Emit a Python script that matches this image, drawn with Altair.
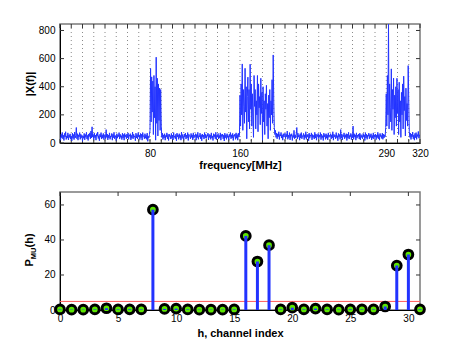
import altair as alt
import pandas as pd

# ---------------- data ----------------
# |X(f)|, 0.5 MHz steps, one row per 10 MHz channel
spectrum_mag = [
    45, 20, 62, 38, 75, 30, 55, 18, 68, 42, 80, 25, 50, 35, 72, 22, 58, 40, 65, 28,
    48, 15, 70, 33, 60, 24, 78, 36, 52, 110, 30, 66, 20, 58, 44, 74, 26, 62, 38, 55,
    12, 50, 34, 68, 22, 60, 40, 76, 28, 54, 18, 64, 46, 72, 30, 85, 36, 115, 42, 60,
    25, 70, 38, 56, 20, 66, 48, 78, 32, 52, 16, 62, 42, 74, 28, 58, 35, 68, 24, 50,
    60, 30, 95, 40, 64, 22, 56, 36, 72, 26, 50, 44, 68, 20, 62, 38, 76, 30, 54, 42,
    18, 66, 34, 58, 46, 74, 28, 62, 40, 52, 24, 70, 36, 60, 20, 68, 44, 56, 30, 64,
    38, 72, 26, 58, 48, 66, 22, 54, 34, 78, 30, 62, 42, 50, 16, 70, 36, 60, 28, 74,
    44, 56, 24, 68, 38, 62, 20, 74, 46, 52, 30, 66, 34, 58, 26, 70, 12, 48, 36, 60,
    90, 530, 150, 470, 220, 440, 60, 480, 180, 400, 20, 610, 140, 460, 50, 420, 160, 390, 90, 380,
    120, 40, 70, 25, 58, 36, 66, 20, 54, 42, 72, 30, 60, 18, 64, 46, 52, 28, 68, 34,
    56, 22, 74, 40, 50, 30, 62, 16, 70, 44, 58, 26, 66, 38, 54, 20, 78, 32, 60, 46,
    24, 64, 42, 70, 28, 56, 36, 74, 18, 62, 48, 52, 30, 68, 40, 58, 22, 72, 34, 54,
    46, 66, 20, 60, 38, 76, 26, 52, 44, 70, 30, 58, 16, 64, 42, 56, 28, 74, 36, 62,
    32, 54, 48, 70, 22, 62, 40, 58, 26, 72, 36, 50, 18, 66, 44, 60, 30, 76, 24, 56,
    42, 68, 28, 54, 36, 72, 20, 60, 46, 64, 30, 56, 14, 70, 38, 58, 26, 66, 40, 52,
    22, 62, 44, 74, 30, 58, 36, 68, 18, 56, 48, 64, 26, 72, 34, 60, 20, 70, 42, 55,
    340, 120, 420, 200, 562, 90, 380, 260, 140, 531, 220, 400, 30, 330, 468, 150, 380, 100, 560, 240,
    420, 120, 350, 190, 40, 480, 260, 380, 100, 300, 200, 480, 80, 420, 250, 330, 130, 460, 210, 360,
    20, 400, 150, 300, 60, 350, 240, 410, 120, 280, 30, 340, 180, 380, 90, 300, 200, 450, 140, 626,
    300, 110, 60, 90, 40, 70, 30, 65, 45, 80, 25, 60, 50, 75, 35, 58, 20, 66, 42, 54,
    70, 30, 62, 44, 85, 26, 56, 38, 74, 22, 60, 48, 66, 18, 54, 40, 90, 30, 58, 36,
    64, 110, 28, 70, 42, 56, 20, 66, 36, 74, 30, 52, 46, 68, 24, 58, 38, 80, 26, 60,
    44, 62, 16, 70, 34, 56, 48, 72, 22, 60, 40, 54, 28, 76, 36, 64, 20, 58, 46, 68,
    30, 56, 42, 74, 24, 62, 38, 52, 18, 70, 44, 60, 26, 66, 34, 58, 22, 72, 40, 54,
    48, 66, 28, 58, 36, 80, 20, 62, 44, 56, 30, 74, 38, 52, 16, 68, 42, 60, 26, 95,
    34, 64, 22, 56, 46, 72, 30, 58, 40, 66, 18, 62, 36, 76, 28, 54, 44, 68, 24, 60,
    38, 120, 26, 66, 42, 58, 20, 72, 34, 56, 46, 64, 28, 70, 22, 60, 40, 54, 30, 68,
    44, 58, 18, 74, 36, 62, 26, 56, 48, 70, 30, 60, 40, 66, 22, 54, 34, 72, 28, 58,
    42, 64, 24, 56, 38, 76, 30, 60, 20, 68, 46, 54, 32, 70, 26, 62, 36, 58, 44, 110,
    350, 120, 480, 200, 846, 100, 420, 250, 150, 527, 90, 380, 240, 461, 60, 340, 180, 400, 120, 460,
    210, 380, 60, 432, 150, 300, 40, 360, 200, 420, 100, 475, 230, 330, 50, 390, 160, 280, 120, 550,
    300, 80, 40, 70, 25, 62, 44, 78, 30, 56, 20, 68, 38, 74, 26, 60, 46, 82, 34, 58,
    50,
]
freq_step_mhz = 0.5
freq_mhz = [i * freq_step_mhz for i in range(len(spectrum_mag))]

grid_freq = list(range(10, 320, 10))
x_tick_freq = list(range(0, 330, 10))
x_label_freq = [80, 160, 290, 320]
y_ticks_top = [0, 200, 400, 600, 800]

channels = list(range(32))
p_mu = [0.3, 0.2, 0.2, 0.3, 1.0, 0.3, 0.4, 0.3, 57.3, 0.6, 0.8, 0.3, 0.2, 0.2, 0.2, 0.3,
        42.3, 27.7, 37.0, 0.3, 1.3, 0.3, 0.8, 0.3, 0.2, 0.4, 0.3, 0.3, 2.0, 25.4, 31.7, 0.4]
threshold = [4.9]
x_ticks_bottom = [0, 5, 10, 15, 20, 25, 30]
y_ticks_bottom = [0, 20, 40, 60]

# ---------------- style ----------------
FONT = "Liberation Sans"
BLUE = "#2233ff"
GREEN = "#5ce600"
RED = "#ff5a5a"
TICK = "#333333"
W, H1, H2 = 360, 119, 118

# ---------------- top panel ----------------
top_x = alt.Scale(domain=[0, 320], nice=False, zero=False)
top_y = alt.Scale(domain=[0, 846], nice=False)
top_x_axis = alt.Axis(values=x_label_freq, title="frequency[MHz]", ticks=False, grid=False,
                      domainColor="black", labelPadding=5, titlePadding=1,
                      labelFlush=False, labelOverlap=False)
top_y_axis = alt.Axis(values=y_ticks_top, title="|X(f)|", ticks=False, grid=False,
                      domainColor="black", labelPadding=5, titlePadding=3)

spec_df = pd.DataFrame({"f": freq_mhz, "mag": spectrum_mag})
grid_df = pd.DataFrame({"f": grid_freq})
xt_df = pd.DataFrame({"f": x_tick_freq})
yt_df = pd.DataFrame({"mag": y_ticks_top})

X_top = alt.X("f:Q", scale=top_x, axis=top_x_axis, title="frequency[MHz]")
Y_top = alt.Y("mag:Q", scale=top_y, axis=top_y_axis, title="|X(f)|")

grid = alt.Chart(grid_df).mark_rule(color="#8a8a8a", strokeDash=[1, 3], strokeWidth=1).encode(x=X_top)
xt_top = alt.Chart(xt_df).mark_rule(color=TICK).encode(x=X_top, y=alt.value(0), y2=alt.value(4))
xt_bot = alt.Chart(xt_df).mark_rule(color=TICK).encode(x=X_top, y=alt.value(H1 - 4), y2=alt.value(H1))
yt_l = alt.Chart(yt_df).mark_rule(color=TICK).encode(y=Y_top, x=alt.value(0), x2=alt.value(4))
yt_r = alt.Chart(yt_df).mark_rule(color=TICK).encode(y=Y_top, x=alt.value(W - 4), x2=alt.value(W))
spec_line = alt.Chart(spec_df).mark_line(color=BLUE, strokeWidth=1.0, clip=True).encode(x=X_top, y=Y_top)

top = alt.layer(grid, xt_top, xt_bot, yt_l, yt_r, spec_line).properties(width=W, height=H1)

# ---------------- bottom panel ----------------
bot_x = alt.Scale(domain=[0, 31], nice=False, zero=False)
bot_y = alt.Scale(domain=[0, 67.4], nice=False)
bot_x_axis = alt.Axis(values=x_ticks_bottom, title="h, channel index", ticks=False, grid=False,
                      domainColor="black", labelPadding=3, titlePadding=4,
                      labelFlush=False, labelOverlap=False)
bot_y_axis = alt.Axis(values=y_ticks_bottom, title=None, ticks=False, grid=False,
                      domainColor="black", labelPadding=5)

ch_df = pd.DataFrame({"h": channels, "p": p_mu})
thr_df = pd.DataFrame({"p": threshold})
xb_df = pd.DataFrame({"h": x_ticks_bottom})
yb_df = pd.DataFrame({"p": y_ticks_bottom})
lab_df = pd.DataFrame({"a": [0]})

X_bot = alt.X("h:Q", scale=bot_x, axis=bot_x_axis, title="h, channel index")
Y_bot = alt.Y("p:Q", scale=bot_y, axis=bot_y_axis, title=None)

thr = alt.Chart(thr_df).mark_rule(color=RED, strokeWidth=1).encode(y=Y_bot)
xb_top = alt.Chart(xb_df).mark_rule(color=TICK).encode(x=X_bot, y=alt.value(0), y2=alt.value(4))
xb_bot = alt.Chart(xb_df).mark_rule(color=TICK).encode(x=X_bot, y=alt.value(H2 - 4), y2=alt.value(H2))
yb_l = alt.Chart(yb_df).mark_rule(color=TICK).encode(y=Y_bot, x=alt.value(0), x2=alt.value(4))
yb_r = alt.Chart(yb_df).mark_rule(color=TICK).encode(y=Y_bot, x=alt.value(W - 4), x2=alt.value(W))

markers = alt.Chart(ch_df).mark_circle(size=76, color=GREEN, opacity=1, stroke="black",
                                       strokeWidth=3, strokeOpacity=1).encode(x=X_bot, y=Y_bot)
stems = alt.Chart(ch_df).mark_rule(color=BLUE, strokeWidth=3).encode(x=X_bot, y=Y_bot, y2=alt.datum(0))


def ylab(text, size, x, y):
    return alt.Chart(lab_df).mark_text(
        text=text, font=FONT, fontSize=size, fontWeight="bold", angle=270,
        align="left", baseline="middle", color="black").encode(
        x=alt.value(x), y=alt.value(y))


t_p = ylab("P", 11, -30.5, 74.5)
t_mu = ylab("MU", 7.5, -26.5, 67.2)
t_h = ylab("(h)", 11, -30.5, 55.5)

bottom = alt.layer(thr, xb_top, xb_bot, yb_l, yb_r, markers, stems, t_p, t_mu, t_h).properties(
    width=W, height=H2)

chart = (
    alt.vconcat(top, bottom, spacing=19)
    .properties(padding={"left": 14, "top": 14, "right": 5, "bottom": 5}, background="white")
    .configure_axis(labelFont=FONT, titleFont=FONT, labelFontSize=10, titleFontSize=11,
                    titleFontWeight="bold", labelColor="black", titleColor="black",
                    domainWidth=1)
    .configure_view(stroke="#7a7a7a", strokeWidth=1.5)
)

chart.save("out.html", embed_options={"renderer": "svg", "actions": False})
